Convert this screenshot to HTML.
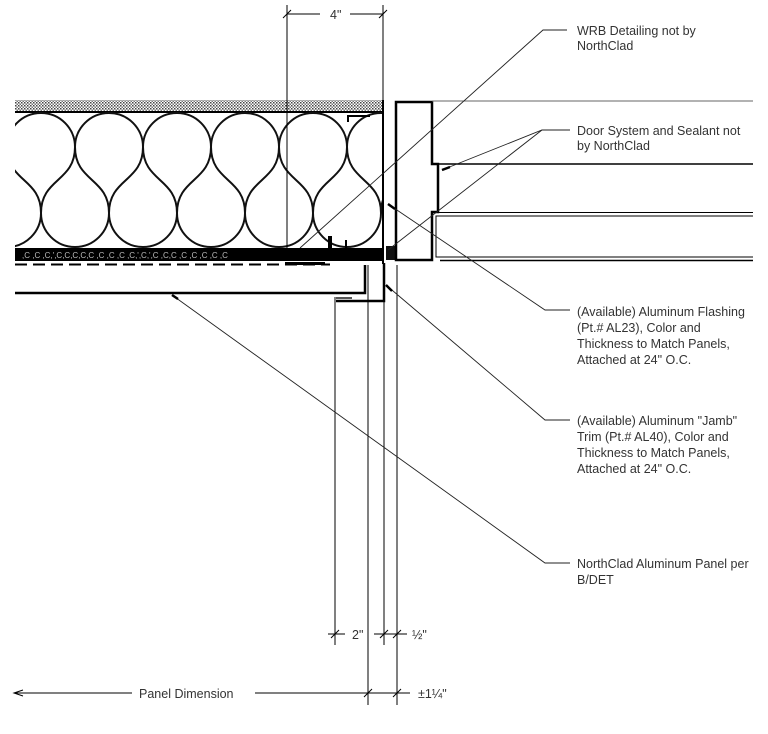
<!DOCTYPE html>
<html><head><meta charset="utf-8"><style>
html,body{margin:0;padding:0;background:#fff;}
svg{display:block;}
text{font-family:"Liberation Sans",sans-serif;font-size:12.5px;fill:#333;}
</style></head><body>
<svg width="768" height="734" viewBox="0 0 768 734" xmlns="http://www.w3.org/2000/svg">
<defs>
<pattern id="dots" width="3" height="3" patternUnits="userSpaceOnUse">
<rect width="3" height="3" fill="#fff"/><rect width="1.5" height="1.5" fill="#444"/><rect x="1.5" y="1.5" width="1.5" height="1.5" fill="#777"/>
</pattern>
<clipPath id="ins"><rect x="15" y="112" width="367" height="137"/></clipPath>
</defs>

<rect x="15" y="100" width="368" height="11" fill="url(#dots)"/>
<line x1="15" y1="112" x2="383" y2="112" stroke="#000" stroke-width="2"/>

<g clip-path="url(#ins)" fill="none" stroke="#111" stroke-width="2">
<path d="M-61,147 A34,34 0 0 1 7,147 C7,182 -27,178 -27,213 A34,34 0 0 0 41,213 C41,178 7,182 7,147
A34,34 0 0 1 75,147 C75,182 41,178 41,213 A34,34 0 0 0 109,213 C109,178 75,182 75,147
A34,34 0 0 1 143,147 C143,182 109,178 109,213 A34,34 0 0 0 177,213 C177,178 143,182 143,147
A34,34 0 0 1 211,147 C211,182 177,178 177,213 A34,34 0 0 0 245,213 C245,178 211,182 211,147
A34,34 0 0 1 279,147 C279,182 245,178 245,213 A34,34 0 0 0 313,213 C313,178 279,182 279,147
A34,34 0 0 1 347,147 C347,182 313,178 313,213 A34,34 0 0 0 381,213 C381,178 347,182 347,147
A34,34 0 0 1 415,147 C415,182 381,178 381,213"/>
</g>

<line x1="383" y1="100" x2="383" y2="264" stroke="#000" stroke-width="2"/>
<path d="M348,122 V116 H370" fill="none" stroke="#000" stroke-width="2"/>
<rect x="328" y="236" width="4" height="14" fill="#000"/>
<rect x="345" y="240" width="2" height="10" fill="#000"/>

<rect x="15" y="248" width="368" height="13" fill="#000"/>
<text x="22" y="258" style="fill:#bbb;font-size:8px">,C  ,C   ,C,',C,C,C,C,C  ,C  ,C   ,C  ,C,',C,',C  ,C,C ,C   ,C  ,C  ,C ,C</text>
<line x1="15" y1="264.5" x2="330" y2="264.5" stroke="#000" stroke-width="2" stroke-dasharray="12,6"/>
<rect x="386" y="246" width="10" height="14" fill="#111"/>
<rect x="285" y="262" width="40" height="3" fill="#000"/>

<path d="M15,293 H365 V265" fill="none" stroke="#000" stroke-width="2.5"/>
<path d="M384,263 V301 H336" fill="none" stroke="#000" stroke-width="2.5"/>
<rect x="336" y="297" width="16" height="2" fill="#555"/>

<path d="M396,102 H432 V164 H438 V212 H432 V260 H396 Z" fill="none" stroke="#000" stroke-width="2.5"/>
<line x1="432" y1="101" x2="753" y2="101" stroke="#666" stroke-width="1"/>
<line x1="438" y1="164" x2="753" y2="164" stroke="#000" stroke-width="1.5"/>
<line x1="433" y1="212.5" x2="753" y2="212.5" stroke="#000" stroke-width="1"/>
<path d="M753,216 H436 V257 H753" fill="none" stroke="#000" stroke-width="1"/>
<line x1="440" y1="260.5" x2="753" y2="260.5" stroke="#000" stroke-width="1.5"/>

<g stroke="#000" stroke-width="1" fill="none">
<line x1="287" y1="5" x2="287" y2="250"/>
<line x1="383" y1="5" x2="383" y2="100"/>
<line x1="287" y1="14" x2="320" y2="14"/>
<line x1="350" y1="14" x2="383" y2="14"/>
<line x1="283" y1="18" x2="291" y2="10"/>
<line x1="379" y1="18" x2="387" y2="10"/>
</g>
<text x="330" y="19">4"</text>

<g stroke="#000" stroke-width="1" fill="none">
<line x1="335" y1="297" x2="335" y2="645"/>
<line x1="368" y1="265" x2="368" y2="705"/>
<line x1="384" y1="302" x2="384" y2="645"/>
<line x1="397" y1="265" x2="397" y2="705"/>
<line x1="328" y1="634" x2="345" y2="634"/>
<line x1="331" y1="638" x2="339" y2="630"/>
<line x1="374" y1="634" x2="407" y2="634"/>
<line x1="380" y1="638" x2="388" y2="630"/>
<line x1="393" y1="638" x2="401" y2="630"/>
<line x1="14" y1="693" x2="132" y2="693"/>
<line x1="255" y1="693" x2="410" y2="693"/>
<line x1="364" y1="697" x2="372" y2="689"/>
<line x1="393" y1="697" x2="401" y2="689"/>
<path d="M23,690 L14,693 L23,696"/>
</g>
<text x="352" y="639">2"</text>
<text x="412" y="639">½"</text>
<text x="139" y="698">Panel Dimension</text>
<text x="418" y="698">±1¼"</text>

<g stroke="#222" stroke-width="0.9" fill="none">
<polyline points="567,30 543,30 300,248"/>
<polyline points="570,130 542,130 442,170"/>
<line x1="542" y1="130" x2="388" y2="250"/>
<polyline points="570,310 545,310 388,204"/>
<polyline points="570,420 545,420 386,285"/>
<polyline points="570,563 545,563 172,295"/>
</g>
<g stroke="#000" stroke-width="2.5">
<line x1="442" y1="170" x2="450" y2="167"/>
<line x1="388" y1="204" x2="395" y2="209"/>
<line x1="386" y1="285" x2="392" y2="291"/>
<line x1="172" y1="295" x2="178" y2="299"/>
</g>

<text x="577" y="35">WRB Detailing not by</text>
<text x="577" y="50">NorthClad</text>
<text x="577" y="135">Door System and Sealant not</text>
<text x="577" y="150">by NorthClad</text>
<text x="577" y="316">(Available) Aluminum Flashing</text>
<text x="577" y="332">(Pt.# AL23), Color and</text>
<text x="577" y="348">Thickness to Match Panels,</text>
<text x="577" y="364">Attached at 24" O.C.</text>
<text x="577" y="425">(Available) Aluminum "Jamb"</text>
<text x="577" y="441">Trim (Pt.# AL40), Color and</text>
<text x="577" y="457">Thickness to Match Panels,</text>
<text x="577" y="473">Attached at 24" O.C.</text>
<text x="577" y="568">NorthClad Aluminum Panel per</text>
<text x="577" y="584">B/DET</text>
</svg>
</body></html>
